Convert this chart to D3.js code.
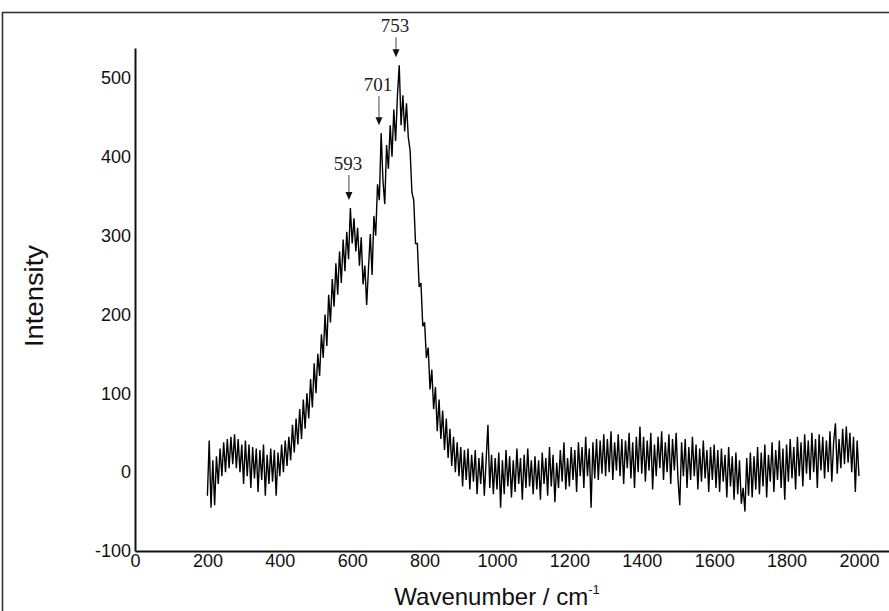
<!DOCTYPE html>
<html>
<head>
<meta charset="utf-8">
<script src="https://cdn.jsdelivr.net/npm/d3@7/dist/d3.min.js"></script>
<style>
  html, body { margin: 0; padding: 0; background: #fff; }
  svg { display: block; }
</style>
</head>
<body>
<svg id="chart" width="889" height="611"></svg>
<script>
// ---------------- data ----------------
const xStart = 200;          // first wavenumber (cm-1)
const xStep = 5;             // spacing between samples (cm-1)
const intensity = [
  // 200-295
  -30, 40, -45, 15, -42, 20, -15, 30, -5, 38, 0, 42, 5, 45, 10, 48, 5, 42, 0, 35,
  // 300-395
  -15, 40, -5, 35, -20, 32, -8, 30, -25, 28, -10, 35, -30, 22, -15, 30, -12, 28, -30, 25,
  // 400-495
  -5, 35, 0, 40, 8, 45, 15, 60, 25, 68, 35, 80, 42, 92, 55, 100, 68, 118, 82, 138,
  // 500-595
  100, 150, 122, 175, 145, 200, 160, 225, 190, 245, 210, 265, 225, 280, 240, 295, 255, 305, 270, 335,
  // 600-695
  290, 322, 280, 310, 262, 298, 238, 262, 212, 258, 302, 250, 325, 300, 365, 345, 430, 370, 340, 415,
  // 700-795
  385, 440, 400, 460, 420, 478, 516, 440, 478, 432, 468, 425, 408, 355, 345, 290, 290, 235, 240, 185,
  // 800-895
  190, 145, 158, 105, 130, 80, 108, 52, 92, 42, 78, 28, 68, 18, 55, 8, 45, 0, 38, -5,
  // 900-995
  32, -18, 28, -10, 30, -22, 22, -12, 28, -28, 18, -15, 25, -30, 15, 60, -20, 22, -28, 18,
  // 1000-1095
  -22, 25, -45, 15, -28, 28, -18, 20, -32, 15, -25, 30, -15, 18, -35, 22, -20, 30, -18, 15,
  // 1100-1195
  -28, 20, -22, 15, -35, 25, -15, 18, -30, 32, -18, 22, -38, 12, -20, 28, -12, 38, -22, 18,
  // 1200-1295
  -18, 32, -10, 28, -25, 38, -5, 32, -20, 45, -5, 30, -45, 38, -8, 42, -10, 40, -2, 48,
  // 1300-1395
  -5, 42, 0, 52, -10, 38, 2, 48, -5, 42, -15, 40, 5, 50, -8, 38, -20, 45, 0, 58,
  // 1400-1495
  -2, 45, -12, 40, 2, 50, -22, 35, -5, 45, 5, 52, -10, 38, 0, 48, -15, 42, 2, 50,
  // 1500-1595
  -8, -42, 38, -5, 42, -20, 32, -10, 45, -5, 35, -22, 30, -12, 40, -8, 28, -25, 32, -10,
  // 1600-1695
  35, -20, 28, -25, 30, -12, 22, -32, 32, -18, 20, -35, 25, -28, 15, -40, -20, -50, 18, -30,
  // 1700-1795
  25, -32, 20, -22, 32, -28, 25, -18, 35, -32, 22, -12, 38, -25, 28, -10, 40, -20, 30, -35,
  // 1800-1895
  35, -12, 42, -8, 32, -22, 45, -5, 38, -18, 48, -2, 40, -10, 50, 0, 42, -20, 48, 2,
  // 1900-2000
  45, -8, 40, 0, 52, -12, 38, 62, -2, 42, 5, 55, 10, 58, 12, 50, 0, 45, -25, 40, -5
];
const xTicks = [0, 200, 400, 600, 800, 1000, 1200, 1400, 1600, 1800, 2000];
const yTicks = [-100, 0, 100, 200, 300, 400, 500];
const peakLabels = ["593", "701", "753"];
const peakPos = [591, 674, 721];   // wavenumber where each arrow points

const xLabel = "Wavenumber / cm";
const xLabelSup = "-1";
const yLabel = "Intensity";

// ---------------- drawing ----------------
const svg = d3.select("#chart");
const data = intensity.map((v, i) => ({ x: xStart + i * xStep, y: v }));

const x = d3.scaleLinear().domain([0, 2083]).range([135, 889]);
const y = d3.scaleLinear().domain([-100, 538]).range([551, 48]);

// frame
svg.append("rect")
  .attr("x", 2.5).attr("y", 12.5)
  .attr("width", 950).attr("height", 700)
  .attr("fill", "none").attr("stroke", "#333").attr("stroke-width", 1.6);

// spectrum
svg.append("path")
  .datum(data)
  .attr("fill", "none")
  .attr("stroke", "#000")
  .attr("stroke-width", 1.4)
  .attr("stroke-linejoin", "miter")
  .attr("d", d3.line().x(d => x(d.x)).y(d => y(d.y)));

// axes
const font = "'Liberation Sans', Arial, sans-serif";
const fmt = d => String(d);
const xAxis = svg.append("g")
  .attr("transform", `translate(0,${y(-100)})`)
  .call(d3.axisBottom(x).tickValues(xTicks).tickSize(0).tickPadding(3).tickFormat(fmt));
const yAxis = svg.append("g")
  .attr("transform", `translate(${x(0)},0)`)
  .call(d3.axisLeft(y).tickValues(yTicks).tickSize(0).tickPadding(4).tickFormat(fmt));

[xAxis, yAxis].forEach(g => {
  g.select(".domain").attr("stroke", "#111").attr("stroke-width", 2);
  g.selectAll("text").attr("font-family", font).attr("font-size", 18).attr("fill", "#111");
});

// axis titles
const xt = svg.append("text")
  .attr("x", 497).attr("y", 605)
  .attr("text-anchor", "middle")
  .attr("font-family", font).attr("font-size", 24).attr("fill", "#111");
xt.append("tspan").text(xLabel);
xt.append("tspan").attr("font-size", 13).attr("dy", -11).text(xLabelSup);

svg.append("text")
  .attr("transform", "translate(43,296) rotate(-90)")
  .attr("text-anchor", "middle")
  .attr("font-family", font).attr("font-size", 25).attr("fill", "#111")
  .attr("textLength", 102).attr("lengthAdjust", "spacingAndGlyphs")
  .text(yLabel);

// peak annotations
const serif = "'Liberation Serif', 'Times New Roman', serif";
const arrowLen = [25, 29, 20];
peakLabels.forEach((lab, i) => {
  const px = x(peakPos[i]);
  const near = data.filter(d => Math.abs(d.x - peakPos[i]) <= 10);
  const tipY = y(d3.max(near, d => d.y)) - 8;
  const topY = tipY - arrowLen[i];
  svg.append("line")
    .attr("x1", px).attr("x2", px)
    .attr("y1", topY).attr("y2", tipY - 6)
    .attr("stroke", "#444").attr("stroke-width", 1);
  svg.append("path")
    .attr("d", `M${px - 3.5},${tipY - 8} L${px + 3.5},${tipY - 8} L${px},${tipY} Z`)
    .attr("fill", "#111");
  svg.append("text")
    .attr("x", px - 1).attr("y", topY - 5)
    .attr("text-anchor", "middle")
    .attr("font-family", serif).attr("font-size", 19).attr("fill", "#222")
    .text(lab);
});
</script>
</body>
</html>
